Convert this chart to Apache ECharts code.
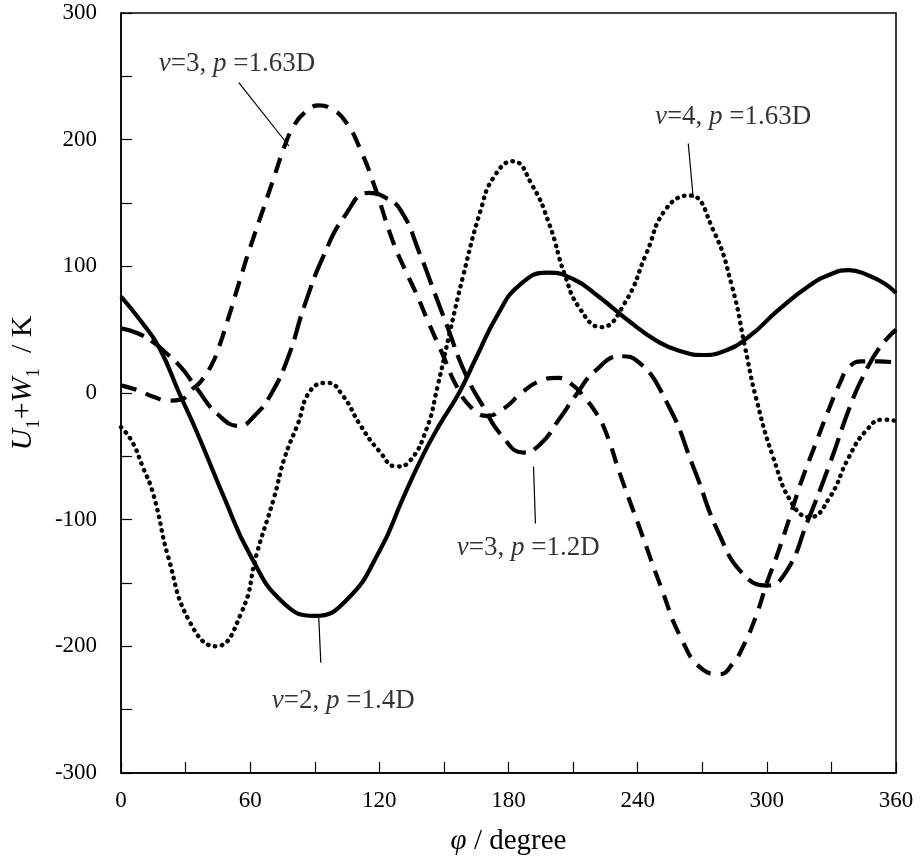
<!DOCTYPE html>
<html>
<head>
<meta charset="utf-8">
<script src="https://cdn.jsdelivr.net/npm/echarts@6/dist/echarts.min.js"></script>
<style>
html,body{margin:0;padding:0;background:#fff;}
#chart{width:921px;height:861px;}
</style>
</head>
<body>
<div id="chart"></div>
<script>
// ν=2, p=1.4D (solid)
const phiNu2 = [0,10,18,27,35,48,60,75,90,105,120,131,140,148,157,165,175,185,198,210,222,235,250,262,270,280,292,305,320,330,338,347,355,360];
const valNu2 = [76,55,35,0,-30,-83,-128,-165,-176,-163,-125,-83,-50,-25,0,28,62,85,95,90,76,58,40,32,30,33,45,65,85,94,97,93,86,79];
// ν=3, p=1.63D (dashed)
const phiNu3a = [0,8,15,22,28,33,37,42,45,50,55,60,66,71,76,80,85,92,98,104,111,118,126,132,137,143,149,156,163,170,178,186,194,203,210,215,220,225,232,241,251,260,270,278,284,289,295,300,306,311,316,322,329,334,338,344,352,360];
const valNu3a = [6,2,-3,-6,-5,3,9,22,34,60,88,115,145,170,195,210,221,227,224,215,193,162,121,97,79,55,32,5,-12,-18,-12,0,9,12,6,-3,-14,-30,-65,-107,-154,-193,-218,-222,-214,-200,-176,-150,-122,-96,-70,-43,-12,8,20,25,25,24];
// ν=3, p=1.2D (long dash)
const phiNu3b = [0,8,15,20,28,35,45,55,62,70,78,85,94,104,115,122,130,139,145,151,160,168,177,187,195,203,212,220,232,240,254,266,278,289,300,309,319,329,339,345,352,360];
const valNu3b = [51,47,40,33,20,4,-17,-26,-18,0,30,68,108,140,158,155,144,109,82,55,15,-10,-34,-47,-40,-22,0,17,29,25,-9,-59,-112,-143,-152,-141,-101,-57,-9,14,35,50];
// ν=4, p=1.63D (dotted)
const phiNu4 = [0,5,10,15,22,32,44,56,63,71,76,82,88,96,103,111,120,128,134,142,147,153,159,167,173,182,191,199,206,213,223,234,244,253,264,275,284,290,295,303,312,320,329,338,346,354,360];
const valNu4 = [-27,-38,-58,-80,-130,-181,-200,-173,-127,-83,-51,-25,2,8,-2,-25,-46,-58,-54,-28,5,50,93,144,170,183,164,133,94,67,52,71,110,145,156,129,83,35,-4,-51,-88,-98,-83,-51,-30,-21,-22];

// annotation labels (text, anchor [phi, value]) and leader lines
const labelTexts = [
  '{i|ν}{r|=3, }{i|p}{r| =1.63D}',
  '{i|ν}{r|=4, }{i|p}{r| =1.63D}',
  '{i|ν}{r|=3, }{i|p}{r| =1.2D}',
  '{i|ν}{r|=2, }{i|p}{r| =1.4D}'
];
const labelAnchors = [[17.5, 260], [248, 218], [156, -122], [70, -243]];
const leaderLines = [
  [[54.7, 245], [78, 195]],
  [[263.5, 197], [265.8, 154]],
  [[191.6, -58], [192.5, -103]],
  [[91.8, -176], [92.8, -213]]
];

const xTicks = [0, 360, 30];   // min, max, interval
const yTicks = [-300, 300, 50];

function zip(a, b) { return a.map((v, i) => [v, b[i]]); }

const FONT = '"Liberation Serif", "Times New Roman", serif';
const chart = echarts.init(document.getElementById('chart'), null, {renderer: 'canvas'});

const curveBase = {type: 'line', showSymbol: false, symbol: 'none', smooth: 0.5, z: 3, silent: true};

const series = [
  Object.assign({}, curveBase, {name: 'nu2', data: zip(phiNu2, valNu2),
    lineStyle: {color: '#000', width: 4.2, type: 'solid'}}),
  Object.assign({}, curveBase, {name: 'nu3a', data: zip(phiNu3a, valNu3a),
    lineStyle: {color: '#000', width: 4.2, type: [16, 10]}}),
  Object.assign({}, curveBase, {name: 'nu3b', data: zip(phiNu3b, valNu3b),
    lineStyle: {color: '#000', width: 4.2, type: [24, 9]}}),
  Object.assign({}, curveBase, {name: 'nu4', data: zip(phiNu4, valNu4),
    lineStyle: {color: '#000', width: 4.4, type: [0.5, 6.5], cap: 'round'}})
];

leaderLines.forEach((seg) => {
  series.push({type: 'line', data: seg, showSymbol: false, symbol: 'none', silent: true, z: 2,
    lineStyle: {color: '#000', width: 1.2}});
});

series.push({
  type: 'scatter', symbolSize: 0, silent: true, z: 5,
  data: labelAnchors.map((p, k) => ({value: p, label: {formatter: labelTexts[k]}})),
  label: {
    show: true, position: 'right', distance: 0,
    rich: {
      i: {fontFamily: FONT, fontStyle: 'italic', fontSize: 27, color: '#000'},
      r: {fontFamily: FONT, fontSize: 27, color: '#000'}
    }
  }
});

chart.setOption({
  animation: false,
  backgroundColor: '#fff',
  grid: {left: 120, right: 25, top: 13, bottom: 88, show: true, borderColor: '#000', borderWidth: 1.5, backgroundColor: 'transparent'},
  xAxis: {
    type: 'value', min: xTicks[0], max: xTicks[1], interval: xTicks[2],
    axisLine: {show: true, onZero: false, lineStyle: {color: '#000', width: 1.5}},
    axisTick: {show: true, inside: true, length: 11, lineStyle: {color: '#000', width: 1.2}},
    splitLine: {show: false},
    axisLabel: {fontFamily: FONT, fontSize: 23, color: '#000', margin: 16,
      formatter: v => (v % 60 === 0 ? String(v) : '')},
    name: '{i|φ}{r| / degree}', nameLocation: 'middle', nameGap: 54,
    nameTextStyle: {rich: {
      i: {fontFamily: FONT, fontStyle: 'italic', fontSize: 29, color: '#000'},
      r: {fontFamily: FONT, fontSize: 29, color: '#000'}
    }}
  },
  yAxis: {
    type: 'value', min: yTicks[0], max: yTicks[1], interval: yTicks[2],
    axisLine: {show: true, onZero: false, lineStyle: {color: '#000', width: 1.5}},
    axisTick: {show: true, inside: true, length: 11, lineStyle: {color: '#000', width: 1.2}},
    splitLine: {show: false},
    axisLabel: {fontFamily: FONT, fontSize: 23, color: '#000', margin: 24,
      formatter: v => (v % 100 === 0 ? String(v) : '')},
    name: '{i|U}{s|1}{r|+}{i|W}{s|1}{r|  / K}', nameLocation: 'middle', nameGap: 72, nameRotate: 90,
    nameTextStyle: {padding: [0, 0, 0, 20], rich: {
      i: {fontFamily: FONT, fontStyle: 'italic', fontSize: 30, color: '#000', lineHeight: 42},
      r: {fontFamily: FONT, fontSize: 30, color: '#000', lineHeight: 42},
      s: {fontFamily: FONT, fontSize: 19, color: '#000', lineHeight: 19, verticalAlign: 'bottom'}
    }}
  },
  series: series
});
</script>
</body>
</html>
